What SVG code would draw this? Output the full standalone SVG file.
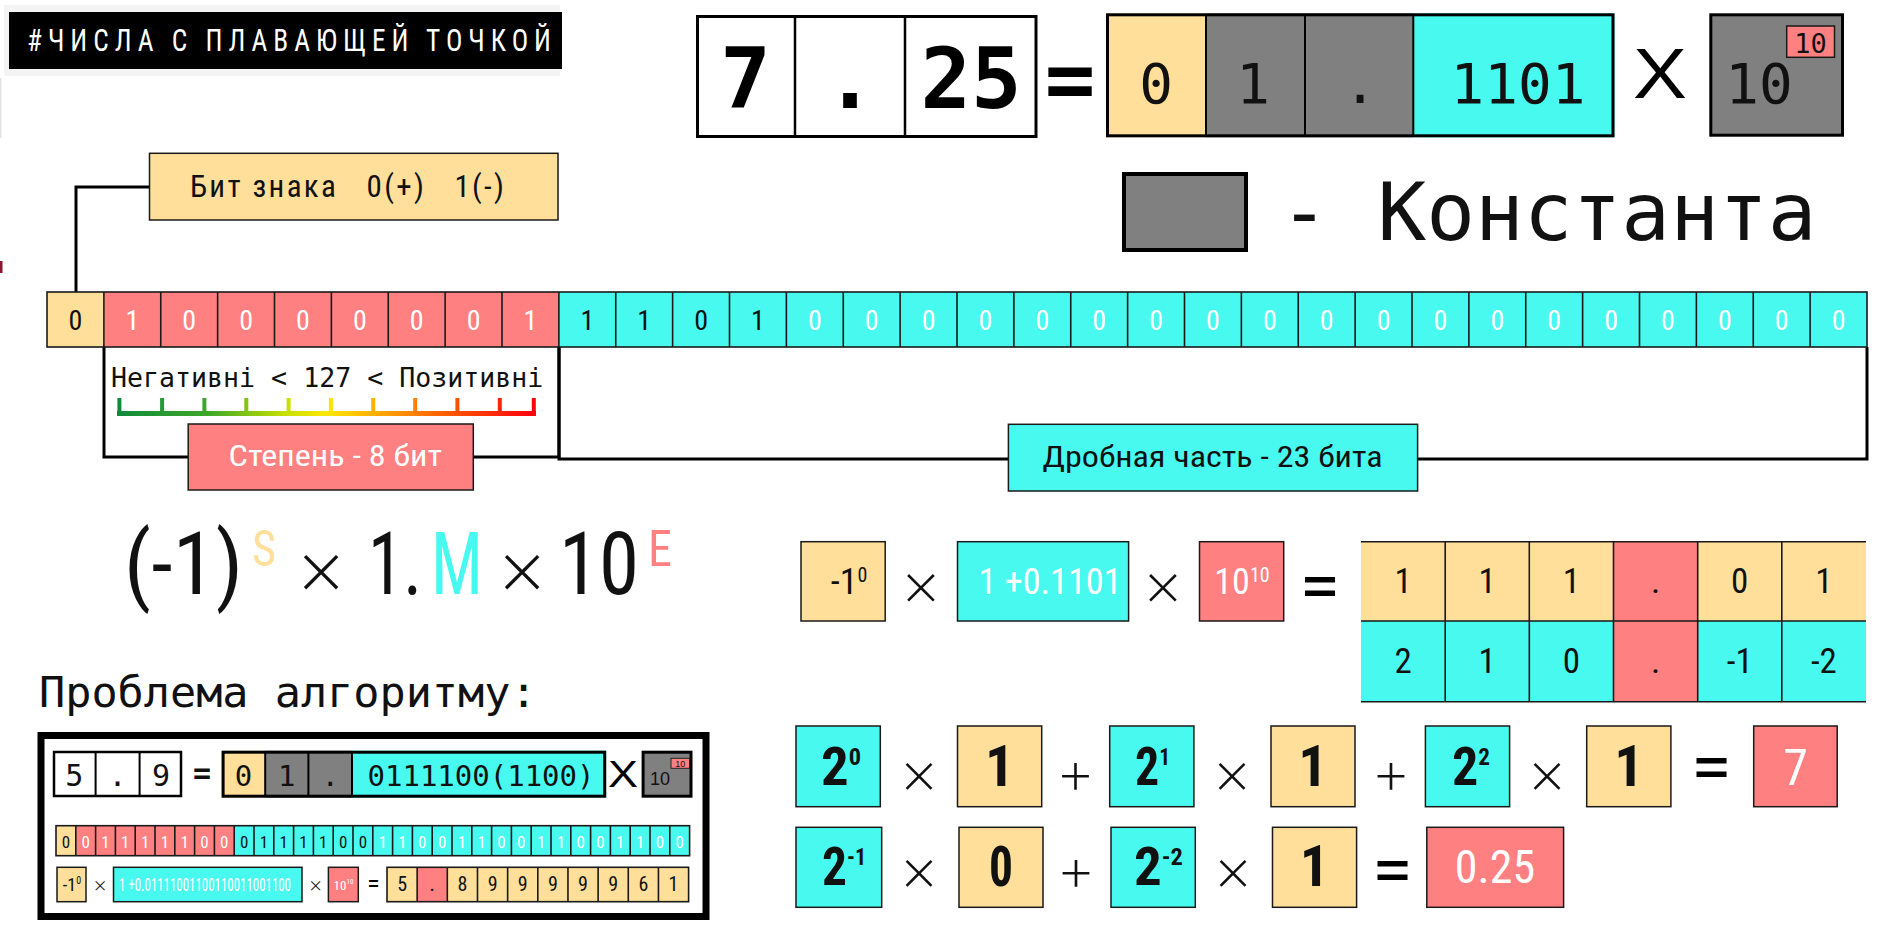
<svg xmlns="http://www.w3.org/2000/svg" width="1880" height="930" viewBox="0 0 1880 930">
<defs>
<style>
.y{fill:#FFDF99}.r{fill:#FF8080}.c{fill:#48F9EF}.g{fill:#808080}.wf{fill:#fff}
.bd{stroke:#1a1a1a;stroke-width:1.5}
.bk{fill:none;stroke:#000;stroke-width:3}
.dv{fill:none;stroke:#1a1a1a;stroke-width:1.6}
.mono{font-family:"DejaVu Sans Mono","Liberation Mono",monospace}
.cond{font-family:"Roboto Condensed","Liberation Sans Narrow","Liberation Sans",sans-serif}
.sans{font-family:"Liberation Sans",Arial,sans-serif}
.op{font-family:"Inter","Lato","DejaVu Sans",sans-serif;font-weight:200;fill:#111;text-anchor:middle;dominant-baseline:central}
.eq{font-family:"Liberation Sans",Arial,sans-serif;font-weight:bold;fill:#000;text-anchor:middle;dominant-baseline:central}
.tb{fill:#111}.tw{fill:#fff}
.mid{text-anchor:middle}
.conn{fill:none;stroke:#000;stroke-width:3}
</style>
<linearGradient id="scaleGrad" gradientUnits="userSpaceOnUse" x1="117" y1="0" x2="536" y2="0">
<stop offset="0" stop-color="#0f8a3a"/>
<stop offset="0.22" stop-color="#3fa82a"/>
<stop offset="0.4" stop-color="#c6e000"/>
<stop offset="0.5" stop-color="#ffe800"/>
<stop offset="0.65" stop-color="#ff9c00"/>
<stop offset="0.82" stop-color="#ff4c00"/>
<stop offset="1" stop-color="#ff0010"/>
</linearGradient>
</defs>
<rect width="1880" height="930" fill="#fff"/>
<rect x="0" y="78" width="1.5" height="60" fill="#e2e2e2"/>
<rect x="0" y="261" width="2.5" height="12" fill="#8b1730"/>

<g id="connectors">
<path class="conn" d="M149.5,187H76V292"/>
<path class="conn" d="M104,347V457H188"/>
<path class="conn" d="M473,457H559V347"/>
<path class="conn" d="M559,347V459H1008"/>
<path class="conn" d="M1418,459H1867V347"/>
</g>

<g id="title">
<rect x="4" y="5" width="556" height="71" fill="#f4f4f4"/>
<rect x="9" y="12" width="553" height="57" fill="#000"/>
<text x="27" y="51" class="cond" font-size="32" fill="#fff" letter-spacing="7" textLength="530" lengthAdjust="spacingAndGlyphs">#ЧИСЛА С ПЛАВАЮЩЕЙ ТОЧКОЙ</text>
</g>

<g id="decimal-7-25">
<rect x="697.5" y="16.5" width="338.5" height="120" fill="#fff" stroke="#000" stroke-width="3"/>
<path d="M795,16.5V136.5M905,16.5V136.5" stroke="#000" stroke-width="2.5"/>
<text class="mono mid" font-weight="bold" font-size="84" y="108"><tspan x="745.5">7</tspan><tspan x="850">.</tspan><tspan x="971">25</tspan></text>
</g>
<text id="eq-top" x="1070" y="108" class="mono mid" font-weight="bold" font-size="84">=</text>

<g id="binary-top">
<rect class="y" x="1106" y="13.3" width="100" height="124"/>
<rect class="g" x="1206" y="13.3" width="99" height="124"/>
<rect class="g" x="1305" y="13.3" width="108.3" height="124"/>
<rect class="c" x="1413.3" y="13.3" width="201.2" height="124"/>
<rect x="1107.5" y="14.8" width="505.5" height="121" class="bk"/>
<path d="M1206,14.8V135.8M1305,14.8V135.8M1413.3,14.8V135.8" stroke="#000" stroke-width="2"/>
<text class="mono mid tb" font-size="56" y="103"><tspan x="1156">0</tspan><tspan x="1253">1</tspan><tspan x="1360">.</tspan><tspan x="1518">1101</tspan></text>
</g>
<text id="times-top" x="1660" y="98" class="sans mid" font-size="70" textLength="54" lengthAdjust="spacingAndGlyphs">X</text>

<g id="base-top">
<rect x="1710.8" y="14.8" width="131.7" height="120.4" class="g" stroke="#000" stroke-width="3"/>
<text x="1759" y="103" class="mono mid tb" font-size="56">10</text>
<rect x="1786.7" y="26" width="47.8" height="31.3" class="r bd"/>
<text x="1810.6" y="53" class="mono mid tb" font-size="27">10</text>
</g>

<g id="legend">
<rect x="1124" y="174" width="122" height="76" class="g" stroke="#000" stroke-width="4"/>
<text x="1280" y="240" class="mono tb" font-size="81">- Константа</text>
</g>

<g id="sign-label">
<rect x="149.5" y="153.3" width="408.5" height="66.7" class="y bd"/>
<text x="190" y="197" class="cond tb" font-size="31" xml:space="preserve" textLength="314" lengthAdjust="spacing">Бит знака   0(+)   1(-)</text>
</g>

<g id="bits">
<rect class="y" x="47" y="292" width="56.875" height="55"/>
<rect class="r" x="103.875" y="292" width="455" height="55"/>
<rect class="c" x="558.875" y="292" width="1308.125" height="55"/>
<path class="dv" d="M103.875,292V347M160.75,292V347M217.625,292V347M274.5,292V347M331.375,292V347M388.25,292V347M445.125,292V347M502,292V347M558.875,292V347M615.75,292V347M672.625,292V347M729.5,292V347M786.375,292V347M843.25,292V347M900.125,292V347M957,292V347M1013.875,292V347M1070.75,292V347M1127.625,292V347M1184.5,292V347M1241.375,292V347M1298.25,292V347M1355.125,292V347M1412,292V347M1468.875,292V347M1525.75,292V347M1582.625,292V347M1639.5,292V347M1696.375,292V347M1753.25,292V347M1810.125,292V347"/>
<rect x="47" y="292" width="1820" height="55" class="dv"/>
<g class="cond mid" font-size="28">
<text x="75.44" y="330" class="tb">0</text>
<text x="132.31" y="330" class="tw">1</text>
<text x="189.19" y="330" class="tw">0</text>
<text x="246.06" y="330" class="tw">0</text>
<text x="302.94" y="330" class="tw">0</text>
<text x="359.81" y="330" class="tw">0</text>
<text x="416.69" y="330" class="tw">0</text>
<text x="473.56" y="330" class="tw">0</text>
<text x="530.44" y="330" class="tw">1</text>
<text x="587.31" y="330" class="tb">1</text>
<text x="644.19" y="330" class="tb">1</text>
<text x="701.06" y="330" class="tb">0</text>
<text x="757.94" y="330" class="tb">1</text>
<text x="814.81" y="330" class="tw">0</text>
<text x="871.69" y="330" class="tw">0</text>
<text x="928.56" y="330" class="tw">0</text>
<text x="985.44" y="330" class="tw">0</text>
<text x="1042.31" y="330" class="tw">0</text>
<text x="1099.19" y="330" class="tw">0</text>
<text x="1156.06" y="330" class="tw">0</text>
<text x="1212.94" y="330" class="tw">0</text>
<text x="1269.81" y="330" class="tw">0</text>
<text x="1326.69" y="330" class="tw">0</text>
<text x="1383.56" y="330" class="tw">0</text>
<text x="1440.44" y="330" class="tw">0</text>
<text x="1497.31" y="330" class="tw">0</text>
<text x="1554.19" y="330" class="tw">0</text>
<text x="1611.06" y="330" class="tw">0</text>
<text x="1667.94" y="330" class="tw">0</text>
<text x="1724.81" y="330" class="tw">0</text>
<text x="1781.69" y="330" class="tw">0</text>
<text x="1838.56" y="330" class="tw">0</text>
</g>
</g>

<g id="exponent-scale">
<text x="111" y="386.7" class="mono tb" font-size="26.6">Негативні &lt; 127 &lt; Позитивні</text>
<path d="M117,413.5H536" fill="none" stroke="url(#scaleGrad)" stroke-width="5"/>
<path d="M119.4,398V413M162.1,398V413M204.4,398V413M246.3,398V413M288.6,398V413M330.9,398V413M373.2,398V413M415.2,398V413M457.4,398V413M499.8,398V413M533.8,398V413" fill="none" stroke="url(#scaleGrad)" stroke-width="4"/>
</g>

<g id="exponent-label">
<rect x="188.2" y="424" width="285.1" height="66" class="r bd"/>
<text x="228.5" y="466" class="cond tw" font-size="29" textLength="213.5" lengthAdjust="spacingAndGlyphs">Степень - 8 бит</text>
</g>

<g id="mantissa-label">
<rect x="1008.4" y="424.3" width="409.2" height="66.7" class="c bd"/>
<text x="1042.5" y="467" class="cond tb" font-size="29" textLength="340" lengthAdjust="spacingAndGlyphs">Дробная часть - 23 бита</text>
</g>

<g id="formula" class="cond">
<text x="124" y="594" font-size="88" class="tb" textLength="119" lengthAdjust="spacingAndGlyphs">(-1)</text>
<text x="252" y="566" font-size="50" fill="#FFDF99" textLength="24" lengthAdjust="spacingAndGlyphs">S</text>
<text x="321" y="565" class="op" font-size="80">×</text>
<text x="368" y="594" font-size="88" class="tb" textLength="54" lengthAdjust="spacingAndGlyphs">1.</text>
<text x="431" y="594" font-size="88" fill="#48F9EF" textLength="52" lengthAdjust="spacingAndGlyphs">M</text>
<text x="522" y="565" class="op" font-size="80">×</text>
<text x="559" y="594" font-size="88" class="tb" textLength="80" lengthAdjust="spacingAndGlyphs">10</text>
<text x="648" y="566" font-size="50" fill="#FF8080" textLength="24" lengthAdjust="spacingAndGlyphs">E</text>
</g>

<text id="problem-title" x="39" y="707" class="mono tb" font-size="43.5">Проблема алгоритму:</text>

<g id="problem-box">
<rect x="41" y="735.5" width="665" height="181" fill="#fff" stroke="#000" stroke-width="7"/>
<rect x="54" y="752" width="127" height="44" fill="#fff" stroke="#000" stroke-width="2.5"/>
<path d="M95.6,752V796M139.6,752V796" stroke="#000" stroke-width="2"/>
<text class="mono mid tb" font-size="30" y="786"><tspan x="74.2">5</tspan><tspan x="117.6">.</tspan><tspan x="161">9</tspan></text>
<text x="202" y="783" class="mono mid tb" font-weight="bold" font-size="30">=</text>
<rect class="y" x="221.6" y="750.7" width="43.6" height="47"/>
<rect class="g" x="265.2" y="750.7" width="43.2" height="47"/>
<rect class="g" x="308.4" y="750.7" width="43.6" height="47"/>
<rect class="c" x="352" y="750.7" width="254.2" height="47"/>
<rect x="223.1" y="752.2" width="381.6" height="44" class="bk"/>
<path d="M265.2,752V797M308.4,752V797M352,752V797" stroke="#000" stroke-width="2"/>
<text class="mono mid tb" font-size="29" y="786"><tspan x="243.4">0</tspan><tspan x="286.8">1</tspan><tspan x="330.2">.</tspan><tspan x="481">0111100(1100)</tspan></text>
<text x="623" y="787" class="sans mid" font-size="36" textLength="30" lengthAdjust="spacingAndGlyphs">X</text>
<rect x="643.1" y="752.2" width="47.9" height="44" class="g" stroke="#000" stroke-width="3"/>
<text x="660" y="785" class="sans mid tb" font-size="18">10</text>
<rect x="671" y="758.3" width="18.5" height="10" class="r" stroke="#222" stroke-width="1"/>
<text x="680.2" y="766.5" class="sans mid tb" font-size="9">10</text>

<rect class="y" x="56" y="825.7" width="19.8" height="30"/>
<rect class="r" x="75.8" y="825.7" width="158.4" height="30"/>
<rect class="c" x="234.2" y="825.7" width="455.4" height="30"/>
<path class="dv" stroke-width="1.2" d="M75.8,825.7v30M95.6,825.7v30M115.4,825.7v30M135.2,825.7v30M155,825.7v30M174.8,825.7v30M194.6,825.7v30M214.4,825.7v30M234.2,825.7v30M254,825.7v30M273.8,825.7v30M293.6,825.7v30M313.4,825.7v30M333.2,825.7v30M353,825.7v30M372.8,825.7v30M392.6,825.7v30M412.4,825.7v30M432.2,825.7v30M452,825.7v30M471.8,825.7v30M491.6,825.7v30M511.4,825.7v30M531.2,825.7v30M551,825.7v30M570.8,825.7v30M590.6,825.7v30M610.4,825.7v30M630.2,825.7v30M650,825.7v30M669.8,825.7v30"/>
<rect x="56" y="825.7" width="633.6" height="30" class="dv" stroke-width="1.2"/>
<g class="cond mid" font-size="17">
<text x="65.9" y="848" class="tb">0</text>
<text x="85.7" y="848" class="tw">0</text>
<text x="105.5" y="848" class="tw">1</text>
<text x="125.3" y="848" class="tw">1</text>
<text x="145.1" y="848" class="tw">1</text>
<text x="164.9" y="848" class="tw">1</text>
<text x="184.7" y="848" class="tw">1</text>
<text x="204.5" y="848" class="tw">0</text>
<text x="224.3" y="848" class="tw">0</text>
<text x="244.1" y="848" class="tb">0</text>
<text x="263.9" y="848" class="tb">1</text>
<text x="283.7" y="848" class="tb">1</text>
<text x="303.5" y="848" class="tb">1</text>
<text x="323.3" y="848" class="tb">1</text>
<text x="343.1" y="848" class="tb">0</text>
<text x="362.9" y="848" class="tb">0</text>
<text x="382.7" y="848" class="tw">1</text>
<text x="402.5" y="848" class="tw">1</text>
<text x="422.3" y="848" class="tw">0</text>
<text x="442.1" y="848" class="tw">0</text>
<text x="461.9" y="848" class="tw">1</text>
<text x="481.7" y="848" class="tw">1</text>
<text x="501.5" y="848" class="tw">0</text>
<text x="521.3" y="848" class="tw">0</text>
<text x="541.1" y="848" class="tw">1</text>
<text x="560.9" y="848" class="tw">1</text>
<text x="580.7" y="848" class="tw">0</text>
<text x="600.5" y="848" class="tw">0</text>
<text x="620.3" y="848" class="tw">1</text>
<text x="640.1" y="848" class="tw">1</text>
<text x="659.9" y="848" class="tw">0</text>
<text x="679.7" y="848" class="tw">0</text>
</g>

<rect x="57" y="867.3" width="29" height="34.4" class="y bd" stroke-width="1"/>
<text x="72" y="891" class="cond mid tb" font-size="18">-1<tspan dy="-7" font-size="10">0</tspan></text>
<text x="100" y="884" class="op" font-size="22">×</text>
<rect x="113.5" y="867.3" width="188.5" height="34.4" class="c bd" stroke-width="1"/>
<text x="119" y="891" class="cond tw" font-size="19" textLength="172" lengthAdjust="spacingAndGlyphs">1 +0.01111001100110011001100</text>
<text x="315.5" y="884" class="op" font-size="22">×</text>
<rect x="328.4" y="867.3" width="29.9" height="34.4" class="r bd" stroke-width="1"/>
<text x="343.5" y="890" class="cond mid tw" font-size="13">10<tspan dy="-6" font-size="7">10</tspan></text>
<text x="373.5" y="884" class="eq" font-size="18">=</text>
<rect class="y" x="387" y="867.3" width="301.6" height="34.4"/>
<rect class="r" x="417.16" y="867.3" width="30.16" height="34.4"/>
<path class="dv" stroke-width="1" d="M417.16,867.3v34.4M447.32,867.3v34.4M477.48,867.3v34.4M507.64,867.3v34.4M537.8,867.3v34.4M567.96,867.3v34.4M598.12,867.3v34.4M628.28,867.3v34.4M658.44,867.3v34.4"/>
<rect x="387" y="867.3" width="301.6" height="34.4" class="dv" stroke-width="1"/>
<text class="cond mid tb" font-size="20" y="891"><tspan x="402.1">5</tspan><tspan x="432.2">.</tspan><tspan x="462.4">8</tspan><tspan x="492.6">9</tspan><tspan x="522.7">9</tspan><tspan x="552.9">9</tspan><tspan x="583">9</tspan><tspan x="613.2">9</tspan><tspan x="643.4">6</tspan><tspan x="673.5">1</tspan></text>
</g>

<g id="ieee-eval">
<rect x="801" y="541.7" width="84.2" height="79.3" class="y bd"/>
<text x="849" y="594" class="cond mid tb" font-size="36">-1<tspan dy="-12" font-size="20">0</tspan></text>
<text x="921" y="582" class="op" font-size="64">×</text>
<rect x="957.5" y="541.7" width="171.1" height="79.3" class="c bd"/>
<text x="978.5" y="594" class="cond tw" font-size="36" textLength="143" lengthAdjust="spacingAndGlyphs">1 +0.1101</text>
<text x="1163" y="582" class="op" font-size="64">×</text>
<rect x="1199.5" y="541.7" width="84.2" height="79.3" class="r bd"/>
<text x="1242" y="594" class="cond mid tw" font-size="36">10<tspan dy="-12" font-size="20">10</tspan></text>
<text x="1320" y="587" class="eq" font-size="50" textLength="35" lengthAdjust="spacingAndGlyphs">=</text>
</g>

<g id="position-table">
<rect class="y" x="1361" y="541.7" width="505" height="79.3"/>
<rect class="c" x="1361" y="621" width="505" height="80.7"/>
<rect class="r" x="1613.5" y="541.7" width="84.2" height="160"/>
<path class="dv" stroke-width="1.3" d="M1445.2,541.7V701.7M1529.3,541.7V701.7M1613.5,541.7V701.7M1697.7,541.7V701.7M1781.8,541.7V701.7M1361,541.7H1866M1361,621H1866M1361,701.7H1866"/>
<text class="cond mid tb" font-size="35" y="593"><tspan x="1403.1">1</tspan><tspan x="1487.2">1</tspan><tspan x="1571.4">1</tspan><tspan x="1655.6">.</tspan><tspan x="1739.7">0</tspan><tspan x="1823.9">1</tspan></text>
<text class="cond mid tb" font-size="35" y="673"><tspan x="1403.1">2</tspan><tspan x="1487.2">1</tspan><tspan x="1571.4">0</tspan><tspan x="1655.6">.</tspan><tspan x="1739.7">-1</tspan><tspan x="1823.9">-2</tspan></text>
</g>

<g id="integer-sum">
<rect x="796" y="726" width="84.3" height="80.7" class="c bd"/>
<text x="841" y="785" class="cond mid tb" font-weight="bold" font-size="54" textLength="40" lengthAdjust="spacingAndGlyphs">2<tspan dy="-20" font-size="24">0</tspan></text>
<text x="919" y="771" class="op" font-size="62">×</text>
<rect x="957.5" y="726" width="84.2" height="80.7" class="y bd"/>
<text x="999.6" y="786" class="cond mid tb" font-weight="bold" font-size="58">1</text>
<text x="1075.5" y="771" class="op" font-size="62">+</text>
<rect x="1109.7" y="726" width="84.2" height="80.7" class="c bd"/>
<text x="1152.5" y="785" class="cond mid tb" font-weight="bold" font-size="54" textLength="35" lengthAdjust="spacingAndGlyphs">2<tspan dy="-20" font-size="24">1</tspan></text>
<text x="1232" y="771" class="op" font-size="62">×</text>
<rect x="1271" y="726" width="84" height="80.7" class="y bd"/>
<text x="1313" y="786" class="cond mid tb" font-weight="bold" font-size="58">1</text>
<text x="1391" y="771" class="op" font-size="62">+</text>
<rect x="1425.4" y="726" width="84.2" height="80.7" class="c bd"/>
<text x="1471" y="785" class="cond mid tb" font-weight="bold" font-size="54" textLength="38" lengthAdjust="spacingAndGlyphs">2<tspan dy="-20" font-size="24">2</tspan></text>
<text x="1547" y="771" class="op" font-size="62">×</text>
<rect x="1586.7" y="726" width="84.2" height="80.7" class="y bd"/>
<text x="1628.8" y="786" class="cond mid tb" font-weight="bold" font-size="58">1</text>
<text x="1711.5" y="768" class="eq" font-size="50" textLength="35" lengthAdjust="spacingAndGlyphs">=</text>
<rect x="1753.7" y="726" width="83.5" height="80.7" class="r bd"/>
<text x="1795.5" y="785" class="cond mid tw" font-size="50">7</text>
</g>

<g id="fraction-sum">
<rect x="796" y="827.3" width="85.7" height="80" class="c bd"/>
<text x="844" y="885" class="cond mid tb" font-weight="bold" font-size="54" textLength="44" lengthAdjust="spacingAndGlyphs">2<tspan dy="-20" font-size="24">-1</tspan></text>
<text x="919" y="868" class="op" font-size="62">×</text>
<rect x="959" y="827.3" width="84" height="80" class="y bd"/>
<text x="1001" y="886" class="cond mid tb" font-weight="bold" font-size="56" textLength="24" lengthAdjust="spacingAndGlyphs">0</text>
<text x="1076" y="868" class="op" font-size="62">+</text>
<rect x="1111" y="827.3" width="84.3" height="80" class="c bd"/>
<text x="1158.5" y="885" class="cond mid tb" font-weight="bold" font-size="54" textLength="49" lengthAdjust="spacingAndGlyphs">2<tspan dy="-20" font-size="24">-2</tspan></text>
<text x="1233" y="868" class="op" font-size="62">×</text>
<rect x="1272.5" y="827.3" width="84.1" height="80" class="y bd"/>
<text x="1314.5" y="886" class="cond mid tb" font-weight="bold" font-size="58">1</text>
<text x="1392.5" y="871" class="eq" font-size="50" textLength="35" lengthAdjust="spacingAndGlyphs">=</text>
<rect x="1426.8" y="827.3" width="136.8" height="80" class="r bd"/>
<text x="1495" y="883" class="cond mid tw" font-size="46">0.25</text>
</g>
</svg>
